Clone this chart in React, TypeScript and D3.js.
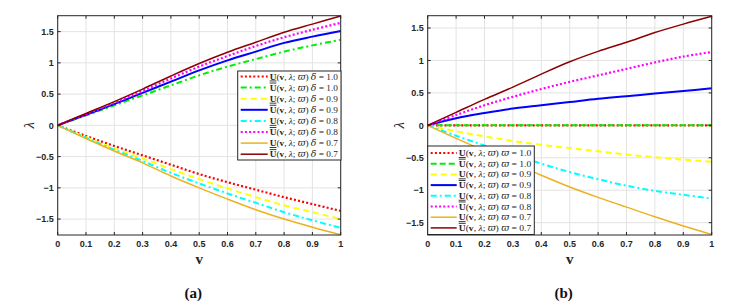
import * as d3 from 'd3';
import React from 'react';

// x values shared by every curve
const vValues = [0, 0.1, 0.2, 0.3, 0.4, 0.5, 0.6, 0.7, 0.8, 0.9, 1.0];
const xTicks = [0, 0.1, 0.2, 0.3, 0.4, 0.5, 0.6, 0.7, 0.8, 0.9, 1];
const yTicks = [-1.5, -1, -0.5, 0, 0.5, 1, 1.5];

// panel (a): delta varies
const aLow10 = [0, -0.17, -0.33, -0.48, -0.63, -0.78, -0.91, -1.03, -1.15, -1.26, -1.37];
const aUp10 = [0, 0.16, 0.32, 0.48, 0.64, 0.8, 0.94, 1.06, 1.18, 1.28, 1.37];
const aLow09 = [0, -0.19, -0.37, -0.53, -0.7, -0.86, -1.01, -1.15, -1.28, -1.39, -1.5];
const aUp09 = [0, 0.17, 0.34, 0.52, 0.7, 0.88, 1.04, 1.18, 1.32, 1.42, 1.51];
const aLow08 = [0, -0.2, -0.39, -0.57, -0.76, -0.93, -1.09, -1.24, -1.39, -1.52, -1.64];
const aUp08 = [0, 0.18, 0.36, 0.55, 0.75, 0.94, 1.11, 1.27, 1.41, 1.53, 1.64];
const aLow07 = [0, -0.21, -0.41, -0.6, -0.81, -1.0, -1.18, -1.35, -1.5, -1.63, -1.75];
const aUp07 = [0, 0.19, 0.38, 0.58, 0.79, 0.99, 1.17, 1.33, 1.49, 1.62, 1.75];

// panel (b): varpi varies
const bLow10 = [0, 0, 0, 0, 0, 0, 0, 0, 0, 0, 0];
const bUp10 = [0, 0, 0, 0, 0, 0, 0, 0, 0, 0, 0];
const bLow09 = [0, -0.09, -0.17, -0.24, -0.3, -0.35, -0.4, -0.45, -0.49, -0.53, -0.56];
const bUp09 = [0, 0.11, 0.19, 0.26, 0.31, 0.36, 0.41, 0.45, 0.49, 0.53, 0.57];
const bLow08 = [0, -0.16, -0.31, -0.45, -0.59, -0.72, -0.83, -0.93, -1.01, -1.07, -1.13];
const bUp08 = [0, 0.16, 0.31, 0.44, 0.56, 0.67, 0.77, 0.87, 0.97, 1.06, 1.13];
const bLow07 = [0, -0.2, -0.39, -0.57, -0.77, -0.95, -1.11, -1.26, -1.41, -1.55, -1.68];
const bUp07 = [0, 0.2, 0.4, 0.59, 0.79, 0.98, 1.14, 1.28, 1.43, 1.56, 1.68];

const labelsVal = ['1.0', '1.0', '0.9', '0.9', '0.8', '0.8', '0.7', '0.7'];

const styles = [
  { color: '#ff0000', dash: '2 2.2', w: 2.2 },
  { color: '#00ee00', dash: '6 3 2 3', w: 2 },
  { color: '#ffff00', dash: '6 4', w: 2 },
  { color: '#0000ff', dash: null, w: 2 },
  { color: '#00ffff', dash: '6 3 2 3', w: 2 },
  { color: '#ff00ff', dash: '2 2.2', w: 2.2 },
  { color: '#edb120', dash: null, w: 1.5 },
  { color: '#8b0000', dash: null, w: 1.5 },
];
const stylesB = styles.map((s, i) => (i === 1 ? { ...s, dash: '6 3' } : s));

const mathFont = 'DejaVu Serif, serif';

function Panel({ x0, x1, y0, y1, yMax, series, sty, sym, legend, tag }) {
  const x = d3.scaleLinear().domain([0, 1]).range([x0, x1]);
  const y = d3.scaleLinear().domain([-yMax, yMax]).range([y1, y0]);
  const line = d3.line<number>()
    .x((d, i) => x(vValues[i]))
    .y(d => y(d))
    .curve(d3.curveCatmullRom);
  const ink = '#262626';
  const tick = 3;

  return (
    <g>
      {/* grid */}
      {xTicks.map(t => (
        <line key={'gx' + t} x1={x(t)} x2={x(t)} y1={y0} y2={y1} stroke="#e3e3e3" strokeWidth={1} />
      ))}
      {yTicks.map(t => (
        <line key={'gy' + t} x1={x0} x2={x1} y1={y(t)} y2={y(t)} stroke="#e3e3e3" strokeWidth={1} />
      ))}
      {/* curves */}
      {series.map((s, i) => (
        <path key={'c' + i} d={line(s)} fill="none" stroke={sty[i].color}
          strokeWidth={sty[i].w} strokeDasharray={sty[i].dash || undefined} />
      ))}
      {/* box and ticks */}
      <rect x={x0} y={y0} width={x1 - x0} height={y1 - y0} fill="none" stroke={ink} strokeWidth={1} />
      {xTicks.map(t => (
        <g key={'tx' + t}>
          <line x1={x(t)} x2={x(t)} y1={y1} y2={y1 - tick} stroke={ink} />
          <line x1={x(t)} x2={x(t)} y1={y0} y2={y0 + tick} stroke={ink} />
          <text x={x(t)} y={y1 + 12} textAnchor="middle" fontSize={9} fontWeight="bold"
            fontFamily="Liberation Sans, Arial, sans-serif" fill={ink}>{d3.format('')(t)}</text>
        </g>
      ))}
      {yTicks.map(t => (
        <g key={'ty' + t}>
          <line x1={x0} x2={x0 + tick} y1={y(t)} y2={y(t)} stroke={ink} />
          <line x1={x1} x2={x1 - tick} y1={y(t)} y2={y(t)} stroke={ink} />
          <text x={x0 - 4} y={y(t) + 3.2} textAnchor="end" fontSize={9} fontWeight="bold"
            fontFamily="Liberation Sans, Arial, sans-serif" fill={ink}>{d3.format('')(t)}</text>
        </g>
      ))}
      {/* axis labels */}
      <text x={(x0 + x1) / 2} y={y1 + 29} textAnchor="middle" fontSize={15} fontWeight="bold"
        fontFamily="Liberation Serif, serif" fill={ink}>v</text>
      <text transform={`translate(${x0 - 24},${y(0)}) rotate(-90)`} textAnchor="middle" fontSize={15}
        fontStyle="italic" fontFamily="Liberation Serif, serif" fill={ink}>λ</text>
      <text x={(x0 + x1) / 2 - 6} y={y1 + 63} textAnchor="middle" fontSize={15} fontWeight="bold"
        fontFamily="Liberation Serif, serif" fill="#111">{tag}</text>
      {/* legend */}
      <rect x={legend.x} y={legend.y} width={legend.w} height={legend.h} fill="#fff" stroke={ink} strokeWidth={1} />
      {labelsVal.map((v, i) => {
        const cy = legend.y + legend.first + i * legend.step;
        const lx = legend.x + 3;
        return (
          <g key={'l' + i}>
            <line x1={lx} x2={lx + legend.sample} y1={cy} y2={cy} stroke={sty[i].color}
              strokeWidth={sty[i].w} strokeDasharray={sty[i].dash || undefined} />
            <text x={lx + legend.sample + 2} y={cy + 3} fontSize={9}
              textLength={legend.w - legend.sample - 8} lengthAdjust="spacingAndGlyphs"
              fontFamily="Liberation Serif, serif" fill={ink}>
              <tspan fontWeight="bold" textDecoration={i % 2 === 0 ? 'underline' : 'overline'}>U</tspan>
              <tspan>(</tspan>
              <tspan fontWeight="bold">v</tspan>
              <tspan>, </tspan>
              <tspan fontStyle="italic">λ</tspan>
              <tspan>; </tspan>
              <tspan fontStyle="italic" fontFamily={mathFont}>ϖ</tspan>
              <tspan>) </tspan>
              <tspan fontStyle="italic" fontFamily={mathFont}>{sym}</tspan>
              <tspan> = {v}</tspan>
            </text>
          </g>
        );
      })}
    </g>
  );
}

export default function App() {
  const seriesA = [aLow10, aUp10, aLow09, aUp09, aLow08, aUp08, aLow07, aUp07];
  const seriesB = [bLow10, bUp10, bLow09, bUp09, bLow08, bUp08, bLow07, bUp07];
  return (
    <svg width={731} height={305} style={{ position: 'absolute', left: 0, top: 0, background: '#fff' }}>
      <rect width={731} height={305} fill="#fff" />
      <Panel x0={57.7} x1={340.7} y0={15.7} y1={235} yMax={1.755} series={seriesA} sty={styles}
        sym="δ" tag="(a)"
        legend={{ x: 237.7, y: 71, w: 103.3, h: 89, first: 5.5, step: 11.1, sample: 27 }} />
      <Panel x0={427.7} x1={711.7} y0={15.7} y1={235} yMax={1.69} series={seriesB} sty={stylesB}
        sym="ϖ" tag="(b)"
        legend={{ x: 427.7, y: 146, w: 106.6, h: 88.5, first: 7, step: 10.7, sample: 26 }} />
    </svg>
  );
}
